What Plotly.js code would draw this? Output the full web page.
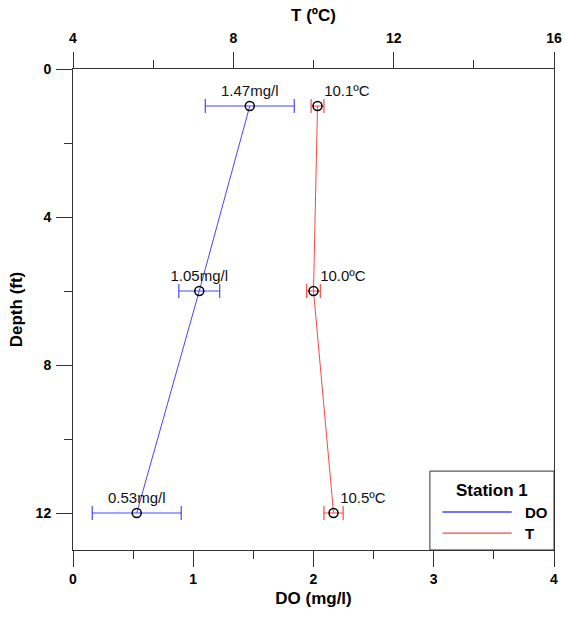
<!DOCTYPE html>
<html>
<head>
<meta charset="utf-8">
<script src="https://cdn.plot.ly/plotly-3.0.1.min.js"></script>
<style>html,body{margin:0;padding:0;background:#fff}#chart{width:565px;height:620px}</style>
</head>
<body>
<div id="chart"></div>
<script>
// ---- data ----
const depth = [1, 6, 12];
const doValues = [1.47, 1.05, 0.53];
const doErrors = [0.37, 0.17, 0.37];
const doLabels = ["1.47mg/l", "1.05mg/l", "0.53mg/l"];
const tempValues = [10.1, 10.0, 10.5];
const tempErrors = [0.16, 0.17, 0.24];
const tempLabels = ["10.1ºC", "10.0ºC", "10.5ºC"];
const doTicks = [0, 1, 2, 3, 4];
const tempTicks = [4, 8, 12, 16];
const depthTicks = [0, 4, 8, 12];
const legendTitle = "Station 1";
const seriesNames = ["DO", "T"];

const BLUE = "#4646ff";
const RED = "#ff4646";
const FONT = "Liberation Sans, Arial, sans-serif";
const AX = "#333333";

const traces = [
  {
    x: doValues, y: depth, xaxis: "x", yaxis: "y", name: seriesNames[0],
    mode: "lines+markers+text", text: doLabels, textposition: "top center",
    textfont: {family: FONT, size: 15, color: "#111"},
    line: {color: BLUE, width: 1},
    marker: {symbol: "circle-open", size: 9, color: "#000", line: {width: 1.5, color: "#000"}},
    error_x: {type: "data", array: doErrors, visible: true, color: BLUE, thickness: 1.2, width: 7},
    showlegend: false, cliponaxis: false
  },
  {
    x: tempValues, y: depth, xaxis: "x2", yaxis: "y", name: seriesNames[1],
    mode: "lines+markers+text", text: tempLabels, textposition: "top right",
    textfont: {family: FONT, size: 15, color: "#111"},
    line: {color: RED, width: 1},
    marker: {symbol: "circle-open", size: 9, color: "#000", line: {width: 1.5, color: "#000"}},
    error_x: {type: "data", array: tempErrors, visible: true, color: RED, thickness: 1.2, width: 7},
    showlegend: false, cliponaxis: false
  }
];

const tickFont = {family: FONT, size: 14, color: "#000", weight: "bold"};
const titleFont = {family: FONT, size: 17, color: "#000", weight: "bold"};

// legend box geometry (paper coords)
const L = {x0: 0.742, x1: 1.0, y0: 0.0, y1: 0.164};

const layout = {
  width: 565, height: 620,
  margin: {l: 73, r: 11, t: 69, b: 70},
  paper_bgcolor: "#fff", plot_bgcolor: "#fff",
  font: {family: FONT, color: "#000"},
  showlegend: false,
  xaxis: {
    range: [0, 4], tickvals: doTicks, ticks: "outside", ticklen: 16, tickcolor: AX, tickwidth: 1,
    minor: {dtick: 0.5, tick0: 0, ticks: "outside", ticklen: 8, tickcolor: AX, tickwidth: 1},
    showline: true, mirror: true, linecolor: AX, linewidth: 1,
    showgrid: false, zeroline: false, tickfont: tickFont,
    title: {text: "DO (mg/l)", font: titleFont, standoff: 6},
    automargin: false
  },
  xaxis2: {
    range: [4, 16], tickvals: tempTicks, overlaying: "x", side: "top", anchor: "y",
    ticks: "outside", ticklen: 16, tickcolor: AX, tickwidth: 1, ticklabelstandoff: 3,
    minor: {dtick: 2, tick0: 4, ticks: "outside", ticklen: 8, tickcolor: AX, tickwidth: 1},
    showline: true, linecolor: AX, linewidth: 1,
    showgrid: false, zeroline: false, tickfont: tickFont,
    title: {text: "T (ºC)", font: titleFont, standoff: 4},
    automargin: false
  },
  yaxis: {
    range: [13, 0], tickvals: depthTicks, ticks: "outside", ticklen: 16, tickcolor: AX, tickwidth: 1,
    ticklabelstandoff: 2,
    minor: {dtick: 2, tick0: 0, ticks: "outside", ticklen: 8, tickcolor: AX, tickwidth: 1},
    showline: true, mirror: true, linecolor: AX, linewidth: 1,
    showgrid: false, zeroline: false, tickfont: tickFont,
    title: {text: "Depth (ft)", font: titleFont, standoff: 8},
    automargin: false
  },
  shapes: [
    {type: "rect", xref: "paper", yref: "paper", x0: L.x0, x1: L.x1, y0: L.y0, y1: L.y1,
     line: {color: AX, width: 1}, fillcolor: "#fff", layer: "above"},
    {type: "line", xref: "paper", yref: "paper", x0: 0.768, x1: 0.912, y0: 0.079, y1: 0.079,
     line: {color: BLUE, width: 1.3}},
    {type: "line", xref: "paper", yref: "paper", x0: 0.768, x1: 0.912, y0: 0.035, y1: 0.035,
     line: {color: RED, width: 1.3}}
  ],
  annotations: [
    {xref: "paper", yref: "paper", x: 0.871, y: 0.124, text: legendTitle, showarrow: false,
     xanchor: "center", yanchor: "middle", font: {family: FONT, size: 17, weight: "bold", color: "#000"}},
    {xref: "paper", yref: "paper", x: 0.935, y: 0.079, text: seriesNames[0], showarrow: false,
     xanchor: "left", yanchor: "middle", font: {family: FONT, size: 15, weight: "bold", color: "#000"}},
    {xref: "paper", yref: "paper", x: 0.935, y: 0.035, text: seriesNames[1], showarrow: false,
     xanchor: "left", yanchor: "middle", font: {family: FONT, size: 15, weight: "bold", color: "#000"}}
  ]
};

Plotly.newPlot("chart", traces, layout, {displayModeBar: false, staticPlot: true});
</script>
</body>
</html>
